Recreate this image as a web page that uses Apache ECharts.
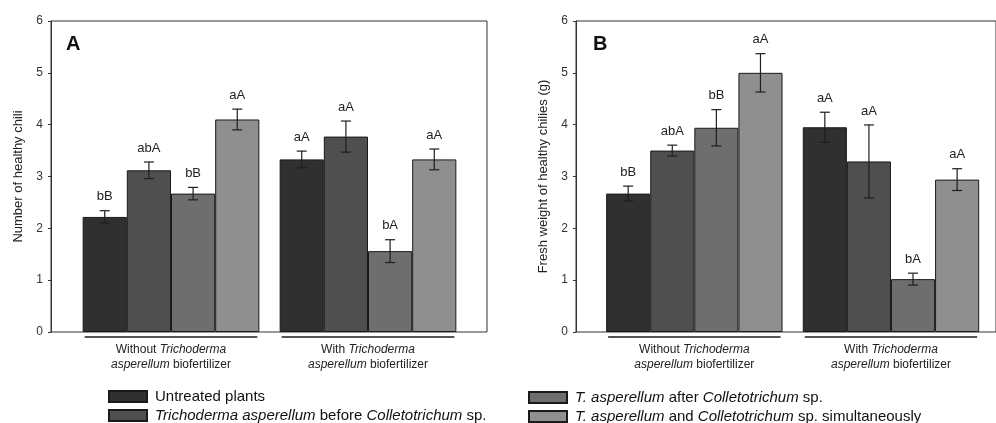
<!DOCTYPE html>
<html>
<head>
<meta charset="utf-8">
<script src="https://cdn.jsdelivr.net/npm/echarts@6/dist/echarts.min.js"></script>
<style>
  html, body { margin: 0; padding: 0; background: #fff; }
  #chart { width: 996px; height: 423px; }
</style>
</head>
<body>
<div id="chart"></div>
<script>
// groups on the x axis
const groups = ['Without', 'With']
const treatments = [
  'Untreated plants',
  'Trichoderma asperellum before Colletotrichum sp.',
  'T. asperellum after Colletotrichum sp.',
  'T. asperellum and Colletotrichum sp. simultaneously',
]
const yTicks = [0, 1, 2, 3, 4, 5, 6]

// panel A: number of healthy chili, one row per treatment -> [without, with]
const countMean = [[2.22, 3.33], [3.12, 3.77], [2.67, 1.56], [4.10, 3.33]]
const countErr = [[0.12, 0.16], [0.16, 0.30], [0.12, 0.22], [0.20, 0.20]]
const countLetters = [['bB', 'aA'], ['abA', 'aA'], ['bB', 'bA'], ['aA', 'aA']]

// panel B: fresh weight of healthy chilies (g)
const weightMean = [[2.67, 3.95], [3.50, 3.29], [3.94, 1.02], [5.00, 2.94]]
const weightErr = [[0.145, 0.29], [0.105, 0.705], [0.35, 0.115], [0.37, 0.21]]
const weightLetters = [['bB', 'aA'], ['abA', 'aA'], ['bB', 'bA'], ['aA', 'aA']]

const barColors = ['#303030', '#4f4f4f', '#6e6e6e', '#8f8f8f']
const FONT = "'Liberation Sans', Arial, sans-serif"
const GAP = 0.103

const chart = echarts.init(document.getElementById('chart'))

const errorRender = (letters) => (params, api) => {
  const g = api.value(0)
  const k = api.value(1)
  const mean = api.value(2)
  const err = api.value(3)
  const center = api.coord([g, 0])
  const band = api.size([1, 0])[0]
  const groupW = band * (1 - GAP)
  const barW = groupW / 4
  const x = center[0] - groupW / 2 + barW * (k + 0.5)
  const yHi = api.coord([g, mean + err])[1]
  const yLo = api.coord([g, mean - err])[1]
  const style = { stroke: '#1e1e1e', lineWidth: 1.2 }
  return {
    type: 'group',
    children: [
      { type: 'line', shape: { x1: x, y1: yHi, x2: x, y2: yLo }, style },
      { type: 'line', shape: { x1: x - 5, y1: yHi, x2: x + 5, y2: yHi }, style },
      { type: 'line', shape: { x1: x - 5, y1: yLo, x2: x + 5, y2: yLo }, style },
      {
        type: 'text',
        style: {
          text: letters[k][g], x: x, y: yHi - 14, align: 'center', verticalAlign: 'middle',
          font: '13px ' + FONT, fill: '#222',
        },
      },
    ],
  }
}

const underlineRender = (params, api) => {
  const center = api.coord([api.value(0), 0])
  const half = api.size([1, 0])[0] * (1 - GAP) / 2
  return {
    type: 'line',
    shape: { x1: center[0] - half + 2, y1: center[1] + 5, x2: center[0] + half - 2, y2: center[1] + 5 },
    style: { stroke: '#555', lineWidth: 2 },
  }
}

const errData = (mean, err) => {
  const out = []
  mean.forEach((row, k) => row.forEach((v, g) => out.push([g, k, v, err[k][g]])))
  return out
}

const frameY = (gridIndex, name) => ({
  type: 'value', gridIndex, min: 0, max: 6, interval: 1,
  name, nameLocation: 'middle', nameGap: 26,
  nameTextStyle: { fontFamily: FONT, fontSize: 13, color: '#222' },
  axisLine: { show: true, lineStyle: { color: '#333', width: 1 } },
  axisTick: { show: true, inside: false, length: 3, lineStyle: { color: '#333' } },
  axisLabel: { fontFamily: FONT, fontSize: 12, color: '#333', margin: 8,
    formatter: (v) => (yTicks.includes(v) ? String(v) : '') },
  splitLine: { show: false },
})

const barX = (gridIndex) => ({
  type: 'category', gridIndex, data: groups,
  axisLine: { show: false }, axisTick: { show: false },
  axisLabel: {
    margin: 10, fontFamily: FONT, fontSize: 12, color: '#222', lineHeight: 15,
    formatter: (v) => (v === 'Without' ? 'Without {i|Trichoderma}' : 'With {i|Trichoderma}') +
      '\n{i|asperellum} biofertilizer',
    rich: { i: { fontStyle: 'italic', fontFamily: FONT, fontSize: 12, color: '#222' } },
  },
})

const hiddenY = (gridIndex) => ({ type: 'value', gridIndex, min: 0, max: 6, show: false })

const barSeries = (xi, mean) => mean.map((row, k) => ({
  name: treatments[k], type: 'bar', xAxisIndex: xi, yAxisIndex: xi,
  barGap: '0%', barCategoryGap: (GAP * 100) + '%', data: row,
  itemStyle: { color: barColors[k], borderColor: '#1a1a1a', borderWidth: 1 },
  emphasis: { disabled: true }, silent: true,
}))

const legendRich = {
  i: { fontStyle: 'italic', fontFamily: FONT, fontSize: 15, color: '#111' },
  n: { fontFamily: FONT, fontSize: 15, color: '#111' },
}
const legendFmt = (name) => {
  if (name === treatments[0]) return '{n|Untreated plants}'
  if (name === treatments[1]) return '{i|Trichoderma asperellum}{n| before }{i|Colletotrichum}{n| sp.}'
  if (name === treatments[2]) return '{i|T. asperellum}{n| after }{i|Colletotrichum}{n| sp.}'
  return '{i|T. asperellum}{n| and }{i|Colletotrichum}{n| sp. simultaneously}'
}
const legendBase = {
  orient: 'vertical', itemWidth: 38, itemHeight: 11, itemGap: 2, icon: 'rect',
  height: 60, padding: 0,
  selectedMode: false, formatter: legendFmt,
  textStyle: { fontFamily: FONT, fontSize: 15, color: '#111', lineHeight: 17, padding: [0, 0, 0, 3], rich: legendRich },
}

chart.setOption({
  animation: false,
  textStyle: { fontFamily: FONT },
  title: [
    { text: 'A', left: 66, top: 34, padding: 0, textStyle: { fontSize: 20, fontWeight: 'bold', color: '#111', fontFamily: FONT } },
    { text: 'B', left: 593, top: 34, padding: 0, textStyle: { fontSize: 20, fontWeight: 'bold', color: '#111', fontFamily: FONT } },
  ],
  legend: [
    Object.assign({ left: 108, top: 388, data: [treatments[0], treatments[1]] }, legendBase),
    Object.assign({ left: 528, top: 389, data: [treatments[2], treatments[3]] }, legendBase),
  ],
  grid: [
    { left: 51, top: 21, width: 436, height: 311, show: true, borderColor: '#333', borderWidth: 1 },
    { left: 72.5, top: 21, width: 394, height: 311 },
    { left: 576, top: 21, width: 430, height: 311, show: true, borderColor: '#333', borderWidth: 1 },
    { left: 596, top: 21, width: 393.3, height: 311 },
  ],
  xAxis: [
    { type: 'value', gridIndex: 0, show: false },
    barX(1),
    { type: 'value', gridIndex: 2, show: false },
    barX(3),
  ],
  yAxis: [
    frameY(0, 'Number of healthy chili'),
    hiddenY(1),
    frameY(2, 'Fresh weight of healthy chilies (g)'),
    hiddenY(3),
  ],
  series: [
    ...barSeries(1, countMean),
    ...barSeries(3, weightMean),
    {
      type: 'custom', xAxisIndex: 1, yAxisIndex: 1, silent: true, clip: false, z: 5,
      renderItem: errorRender(countLetters), data: errData(countMean, countErr),
    },
    {
      type: 'custom', xAxisIndex: 3, yAxisIndex: 3, silent: true, clip: false, z: 5,
      renderItem: errorRender(weightLetters), data: errData(weightMean, weightErr),
    },
    { type: 'custom', xAxisIndex: 1, yAxisIndex: 1, silent: true, clip: false, renderItem: underlineRender, data: [[0], [1]] },
    { type: 'custom', xAxisIndex: 3, yAxisIndex: 3, silent: true, clip: false, renderItem: underlineRender, data: [[0], [1]] },
  ],
})

window.addEventListener('resize', () => chart.resize())
</script>
</body>
</html>
